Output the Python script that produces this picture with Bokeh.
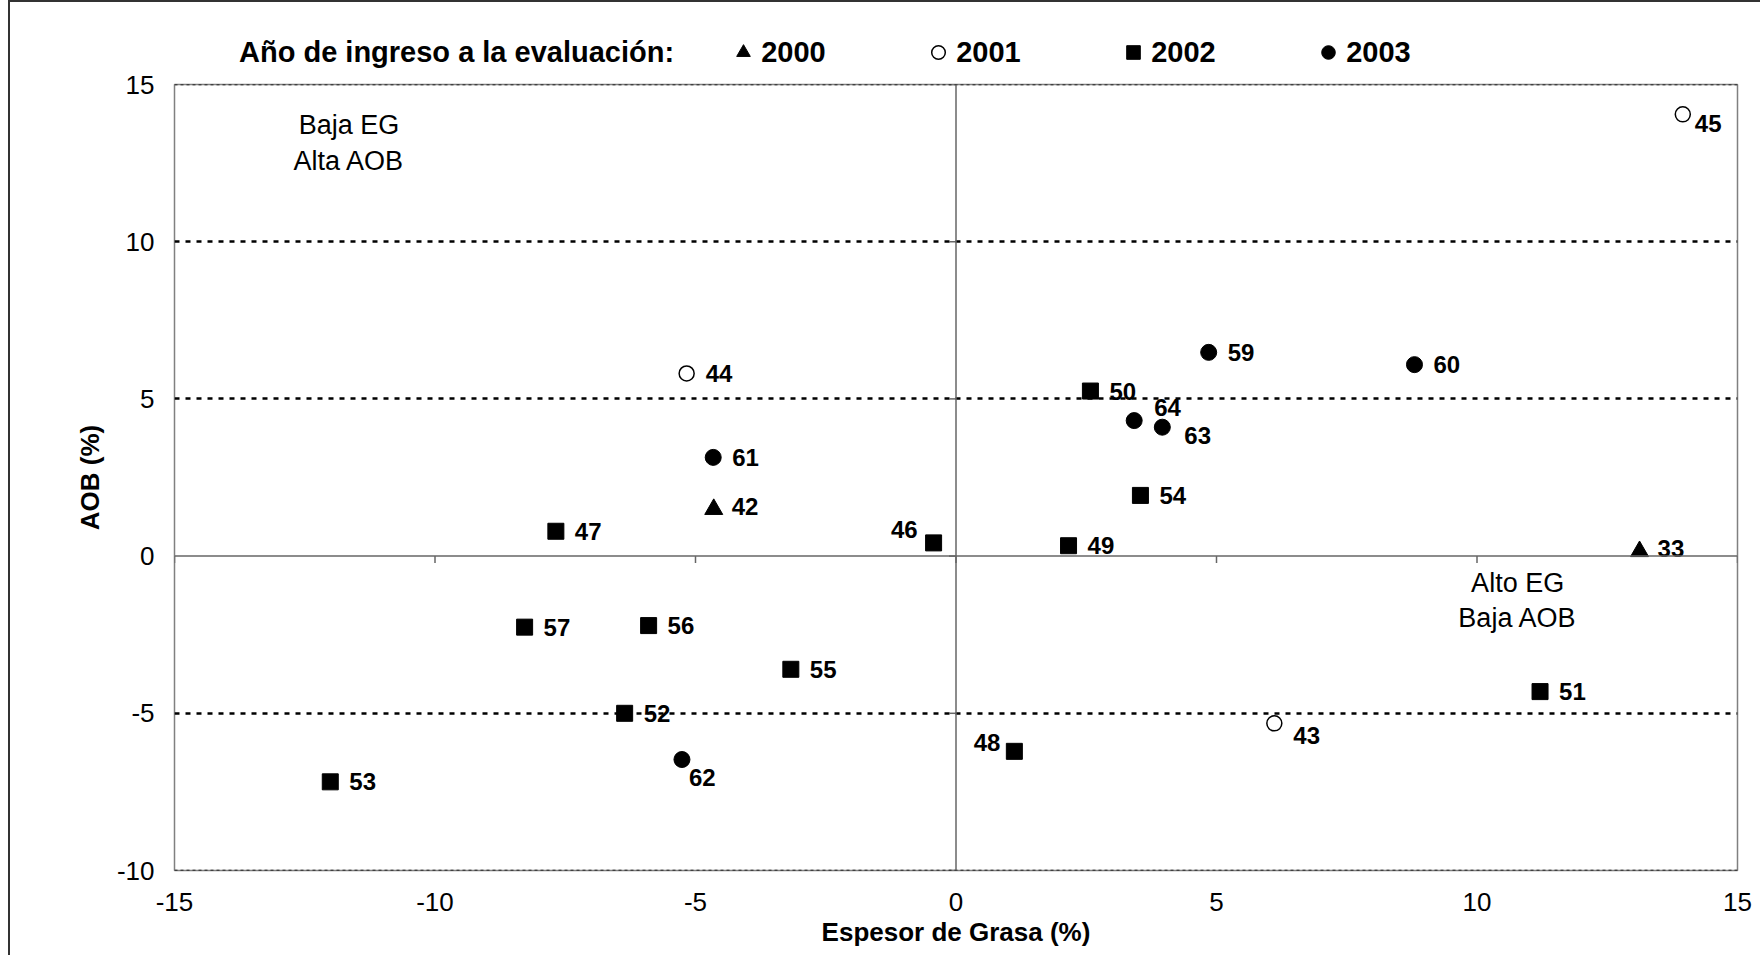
from bokeh.plotting import figure
from bokeh.layouts import column
from bokeh.models import Range1d, FixedTicker, Span, Label, Legend, LegendItem, ColumnDataSource
from bokeh.embed import file_html
from bokeh.resources import INLINE
from bokeh.core.properties import value

FONT = "Liberation Sans"

# ---- data ----
legend_title = "Año de ingreso a la evaluación:"
years = ["2000", "2001", "2002", "2003"]

ids_2000 = ["42", "33"]
eg_2000 = [-4.65, 13.12]
aob_2000 = [1.49, 0.15]

ids_2001 = ["44", "45", "43"]
eg_2001 = [-5.17, 13.95, 6.11]
aob_2001 = [5.81, 14.05, -5.32]

ids_2002 = ["47", "46", "50", "54", "49", "57", "56", "55", "52", "53", "48", "51"]
eg_2002 = [-7.68, -0.43, 2.58, 3.54, 2.16, -8.28, -5.90, -3.17, -6.36, -12.01, 1.12, 11.21]
aob_2002 = [0.79, 0.42, 5.25, 1.93, 0.33, -2.26, -2.21, -3.60, -5.00, -7.18, -6.21, -4.31]

ids_2003 = ["61", "59", "60", "64", "63", "62"]
eg_2003 = [-4.66, 4.85, 8.80, 3.42, 3.96, -5.26]
aob_2003 = [3.14, 6.48, 6.09, 4.31, 4.10, -6.47]

series = {"2000": (eg_2000, aob_2000, ids_2000),
          "2001": (eg_2001, aob_2001, ids_2001),
          "2002": (eg_2002, aob_2002, ids_2002),
          "2003": (eg_2003, aob_2003, ids_2003)}

x_ticks = [-15, -10, -5, 0, 5, 10, 15]
y_ticks = [-10, -5, 0, 5, 10, 15]
dotted_levels = [-5, 5, 10]
edge_levels = [-10, 15]

x_title = "Espesor de Grasa (%)"
y_title = "AOB (%)"
quadrant_top_left = ["Baja EG", "Alta AOB"]
quadrant_bottom_right = ["Alto EG", "Baja AOB"]

# label placement (screen px offsets), style only
label_style = {
    "45": (12, 9, "left"),
    "46": (-16, -13, "right"),
    "64": (20, -13, "left"),
    "63": (22, 8, "left"),
    "62": (7, 18, "left"),
    "48": (-14, -9, "right"),
    "43": (19, 12, "left"),
    "42": (18, -3, "left"),
    "33": (18, -3, "left"),
}
default_style = (19, 0, "left")

MARKERS = {
    "2000": dict(marker="triangle", size=18, fill_color="black", line_color="black"),
    "2001": dict(marker="circle", size=15, fill_color="white", line_color="black", line_width=1.5),
    "2002": dict(marker="square", size=16, fill_color="black", line_color="black"),
    "2003": dict(marker="circle", size=16, fill_color="black", line_color="black"),
}

# ---- main figure ----
p = figure(width=1752, height=888, output_backend="svg", toolbar_location=None,
           x_range=Range1d(-15, 15), y_range=Range1d(-10, 15),
           min_border_left=164, min_border_right=25, min_border_top=15, min_border_bottom=87)
p.background_fill_color = "white"
p.border_fill_color = "white"
p.outline_line_color = "#808080"
p.outline_line_width = 1.5

p.xgrid.visible = False
p.ygrid.ticker = FixedTicker(ticks=dotted_levels)
p.ygrid.grid_line_color = "black"
p.ygrid.grid_line_width = 2.5
p.ygrid.grid_line_dash = "5 6"

for lv in edge_levels:
    p.add_layout(Span(location=lv, dimension="width", line_color="black",
                      line_width=1.5, line_dash="3 3"))

# crossing axes lines
p.add_layout(Span(location=0, dimension="width", line_color="#666666", line_width=1.5))
p.add_layout(Span(location=0, dimension="height", line_color="#666666", line_width=1.5))
# tick marks on crossing axes
p.segment(x0=x_ticks, y0=[0] * len(x_ticks), x1=x_ticks, y1=[-0.22] * len(x_ticks),
          line_color="#666666", line_width=1.5)
p.segment(x0=[0] * len(y_ticks), y0=y_ticks, x1=[-0.135] * len(y_ticks), y1=y_ticks,
          line_color="#666666", line_width=1.5)

for ax in (p.xaxis, p.yaxis):
    ax.axis_line_color = None
    ax.major_tick_line_color = None
    ax.minor_tick_line_color = None
    ax.major_tick_out = 0
    ax.major_tick_in = 0
    ax.major_label_text_font = FONT
    ax.major_label_text_font_size = "26px"
    ax.major_label_text_color = "black"
    ax.axis_label_text_font = FONT
    ax.axis_label_text_font_size = "26px"
    ax.axis_label_text_font_style = "bold"
    ax.axis_label_text_color = "black"

p.xaxis.ticker = FixedTicker(ticks=x_ticks)
p.yaxis.ticker = FixedTicker(ticks=y_ticks)
p.xaxis.major_label_overrides = {t: str(t) for t in x_ticks}
p.yaxis.major_label_overrides = {t: str(t) for t in y_ticks}
p.xaxis.axis_label = x_title
p.yaxis.axis_label = y_title
p.xaxis.major_label_standoff = 22
p.yaxis.major_label_standoff = 20
p.xaxis.axis_label_standoff = 3
p.yaxis.axis_label_standoff = 9

# ---- markers ----
for yr in years:
    xs, ys, _ = series[yr]
    p.scatter(xs, ys, **MARKERS[yr])

# ---- point labels ----
all_ids = ids_2000 + ids_2001 + ids_2002 + ids_2003
all_x = eg_2000 + eg_2001 + eg_2002 + eg_2003
all_y = aob_2000 + aob_2001 + aob_2002 + aob_2003
styles = [label_style.get(i, default_style) for i in all_ids]
src = ColumnDataSource(dict(x=all_x, y=all_y, text=all_ids,
                            dx=[s[0] for s in styles], dy=[s[1] for s in styles],
                            align=[s[2] for s in styles]))
p.text(x="x", y="y", text="text", x_offset="dx", y_offset="dy", text_align="align",
       source=src, text_font=value(FONT), text_font_style="bold", text_font_size="24px",
       text_baseline="middle", text_color="black")

# ---- quadrant notes ----
for txt, yy in zip(quadrant_top_left, [13.71, 12.56]):
    p.add_layout(Label(x=-11.65, y=yy, text=txt, text_align="center", text_baseline="middle",
                       text_font=FONT, text_font_size="27px", text_color="black"))
for txt, yy in zip(quadrant_bottom_right, [-0.84, -1.98]):
    p.add_layout(Label(x=10.78, y=yy, text=txt, text_align="center", text_baseline="middle",
                       text_font=FONT, text_font_size="27px", text_color="black"))

# ---- legend strip above the plot (shares x scale; data lies outside its y view) ----
top = figure(width=1752, height=67, output_backend="svg", toolbar_location=None,
             x_axis_type=None, y_axis_type=None, x_range=p.x_range, y_range=Range1d(100, 101),
             min_border_left=164, min_border_right=25, min_border_top=0, min_border_bottom=0)
top.outline_line_color = None
top.grid.visible = False
top.background_fill_color = "white"
top.border_fill_color = "white"
t_dummy = top.scatter(x=[], y=[], marker="circle", fill_alpha=0, line_alpha=0)
t_rs = [top.scatter(series[yr][0], series[yr][1], **MARKERS[yr]) for yr in years]
legend = Legend(items=[LegendItem(label=legend_title, renderers=[t_dummy])] +
                      [LegendItem(label=yr, renderers=[r]) for yr, r in zip(years, t_rs)],
                orientation="horizontal", location=(30, 0))
legend.glyph_width = 34
legend.glyph_height = 34
legend.label_standoff = 1
legend.label_width = 108
legend.spacing = 52
legend.padding = 0
legend.margin = 0
legend.border_line_color = None
legend.background_fill_alpha = 0
legend.label_text_font = FONT
legend.label_text_font_size = "29px"
legend.label_text_font_style = "bold"
legend.label_text_color = "black"
top.add_layout(legend)

layout = column(top, p, spacing=0, width=1752, height=955)
layout.styles = {"box-shadow": "-2px -2px 0 0 #333333",
                 "margin-left": "10px", "margin-top": "2px"}

open("out.html", "w").write(file_html(layout, INLINE))
